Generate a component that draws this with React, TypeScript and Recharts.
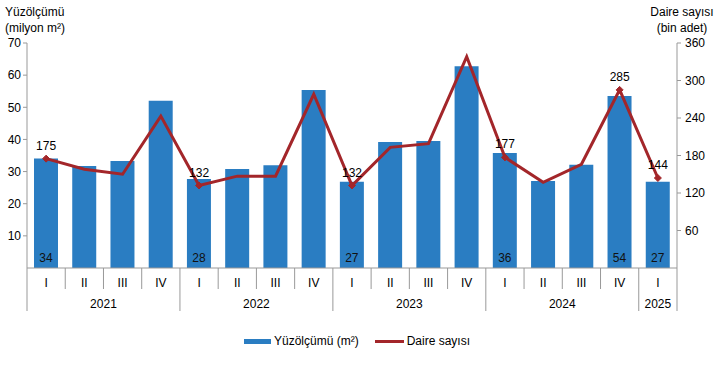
import {
  Bar,
  ComposedChart,
  LabelList,
  Legend,
  Line,
  XAxis,
  YAxis,
} from "recharts";

const quarters = ["I", "II", "III", "IV", "I", "II", "III", "IV", "I", "II", "III", "IV", "I", "II", "III", "IV", "I"];
const years = ["2021", "2021", "2021", "2021", "2022", "2022", "2022", "2022", "2023", "2023", "2023", "2023", "2024", "2024", "2024", "2024", "2025"];
// Yüzölçümü, milyon m²
const area = [34.1, 31.7, 33.3, 52.0, 27.7, 30.8, 32.0, 55.4, 26.8, 39.2, 39.5, 62.8, 35.8, 27.1, 32.1, 53.5, 26.8];
// Daire sayısı, bin adet
const dwellings = [175, 158, 150, 243, 132, 147, 147, 278, 132, 193, 199, 338, 177, 137, 166, 285, 144];
// points that carry a value label
const labelled = [0, 4, 8, 12, 15, 16];

const leftTicks = [10, 20, 30, 40, 50, 60, 70];
const rightTicks = [60, 120, 180, 240, 300, 360];

const BLUE = "#2A7DC2";
const RED = "#A3262A";
const FONT = '"Liberation Sans", Arial, sans-serif';

const W = 714;
const H = 378;
const PLOT_LEFT = 27;
const PLOT_RIGHT = 677;
const PLOT_BOTTOM = 268;
const BAND = (PLOT_RIGHT - PLOT_LEFT) / quarters.length;

const data = quarters.map((q, i) => ({
  key: `${years[i]}-${q}-${i}`,
  q,
  year: years[i],
  area: area[i],
  dwellings: dwellings[i],
  areaLabel: labelled.includes(i) ? Math.round(area[i]) : undefined,
  dwLabel: labelled.includes(i) ? dwellings[i] : undefined,
}));

const QuarterTick = ({ x, payload, index }: any) => {
  const i = index ?? payload.index;
  const yearStart = i === 0 || years[i] !== years[i - 1];
  let yearText = null;
  if (yearStart) {
    let len = 1;
    while (i + len < years.length && years[i + len] === years[i]) len++;
    yearText = (
      <text x={x + ((len - 1) * BAND) / 2} y={304} textAnchor="middle" dominantBaseline="central" fontSize={12} fill="#000" fontFamily={FONT}>
        {years[i]}
      </text>
    );
  }
  const left = x - BAND / 2;
  return (
    <g>
      <line x1={left} x2={left} y1={PLOT_BOTTOM} y2={yearStart ? 311 : 289} stroke="#999" />
      {i === quarters.length - 1 && (
        <line x1={x + BAND / 2} x2={x + BAND / 2} y1={PLOT_BOTTOM} y2={311} stroke="#999" />
      )}
      <text x={x} y={283} textAnchor="middle" dominantBaseline="central" fontSize={12} fill="#000" fontFamily={FONT}>
        {payload.value}
      </text>
      {yearText}
    </g>
  );
};

const BarBottomLabel = ({ x, y, width, height, value }: any) => {
  if (value === undefined || value === null) return null;
  return (
    <text x={x + width / 2} y={y + height - 10} textAnchor="middle" dominantBaseline="central" fontSize={12} fill="#111" fontFamily={FONT}>
      {value}
    </text>
  );
};

const Diamond = ({ cx, cy, index }: any) => {
  if (!labelled.includes(index)) return <g key={`d${index}`} />;
  const s = 3.5;
  return (
    <path
      key={`d${index}`}
      d={`M${cx},${cy - s}L${cx + s},${cy}L${cx},${cy + s}L${cx - s},${cy}Z`}
      fill={RED}
      stroke={RED}
    />
  );
};

const legendContent = () => (
  <div style={{ display: "flex", justifyContent: "center", alignItems: "center", fontSize: 12, fontFamily: FONT, color: "#000" }}>
    <span style={{ display: "inline-block", width: 27, height: 5, background: BLUE, marginRight: 3 }} />
    <span style={{ marginRight: 16 }}>Yüzölçümü (m²)</span>
    <span style={{ display: "inline-block", width: 29, height: 3, background: RED, marginRight: 3 }} />
    <span>Daire sayısı</span>
  </div>
);

export default function App() {
  return (
    <div style={{ position: "absolute", left: 0, top: 0, width: W, height: H, background: "#fff", fontFamily: FONT }}>
      <div style={{ position: "absolute", left: 5, top: 4, fontSize: 12, lineHeight: "16px", color: "#000" }}>
        Yüzölçümü
        <br />
        (milyon m²)
      </div>
      <div style={{ position: "absolute", left: 640, width: 84, top: 4, fontSize: 12, lineHeight: "16px", color: "#000", textAlign: "center" }}>
        Daire sayısı
        <br />
        (bin adet)
      </div>
      <ComposedChart
        width={W}
        height={H}
        data={data}
        margin={{ top: 43, right: 0, bottom: 40, left: 0 }}
        barSize={24}
      >
        <XAxis
          dataKey="q"
          interval={0}
          height={40}
          tickLine={false}
          axisLine={{ stroke: "#999" }}
          tick={<QuarterTick />}
        />
        <YAxis
          yAxisId="left"
          width={27}
          domain={[0, 70]}
          ticks={leftTicks}
          tickSize={4}
          tickMargin={2}
          axisLine={{ stroke: "#999" }}
          tickLine={{ stroke: "#999" }}
          tick={{ fontSize: 12, fill: "#000", fontFamily: FONT }}
        />
        <YAxis
          yAxisId="right"
          orientation="right"
          width={37}
          domain={[0, 360]}
          ticks={rightTicks}
          tickSize={4}
          tickMargin={4}
          axisLine={{ stroke: "#999" }}
          tickLine={{ stroke: "#999" }}
          tick={{ fontSize: 12, fill: "#000", fontFamily: FONT }}
        />
        <Legend height={30} wrapperStyle={{ top: 334 }} content={legendContent} />
        <Bar yAxisId="left" dataKey="area" name="Yüzölçümü (m²)" fill={BLUE} isAnimationActive={false}>
          <LabelList dataKey="areaLabel" content={<BarBottomLabel />} />
        </Bar>
        <Line
          yAxisId="right"
          type="linear"
          dataKey="dwellings"
          name="Daire sayısı"
          stroke={RED}
          strokeWidth={3}
          dot={Diamond}
          activeDot={false}
          isAnimationActive={false}
        >
          <LabelList dataKey="dwLabel" position="top" offset={9} fontSize={12} fill="#000" fontFamily={FONT} />
        </Line>
      </ComposedChart>
    </div>
  );
}
